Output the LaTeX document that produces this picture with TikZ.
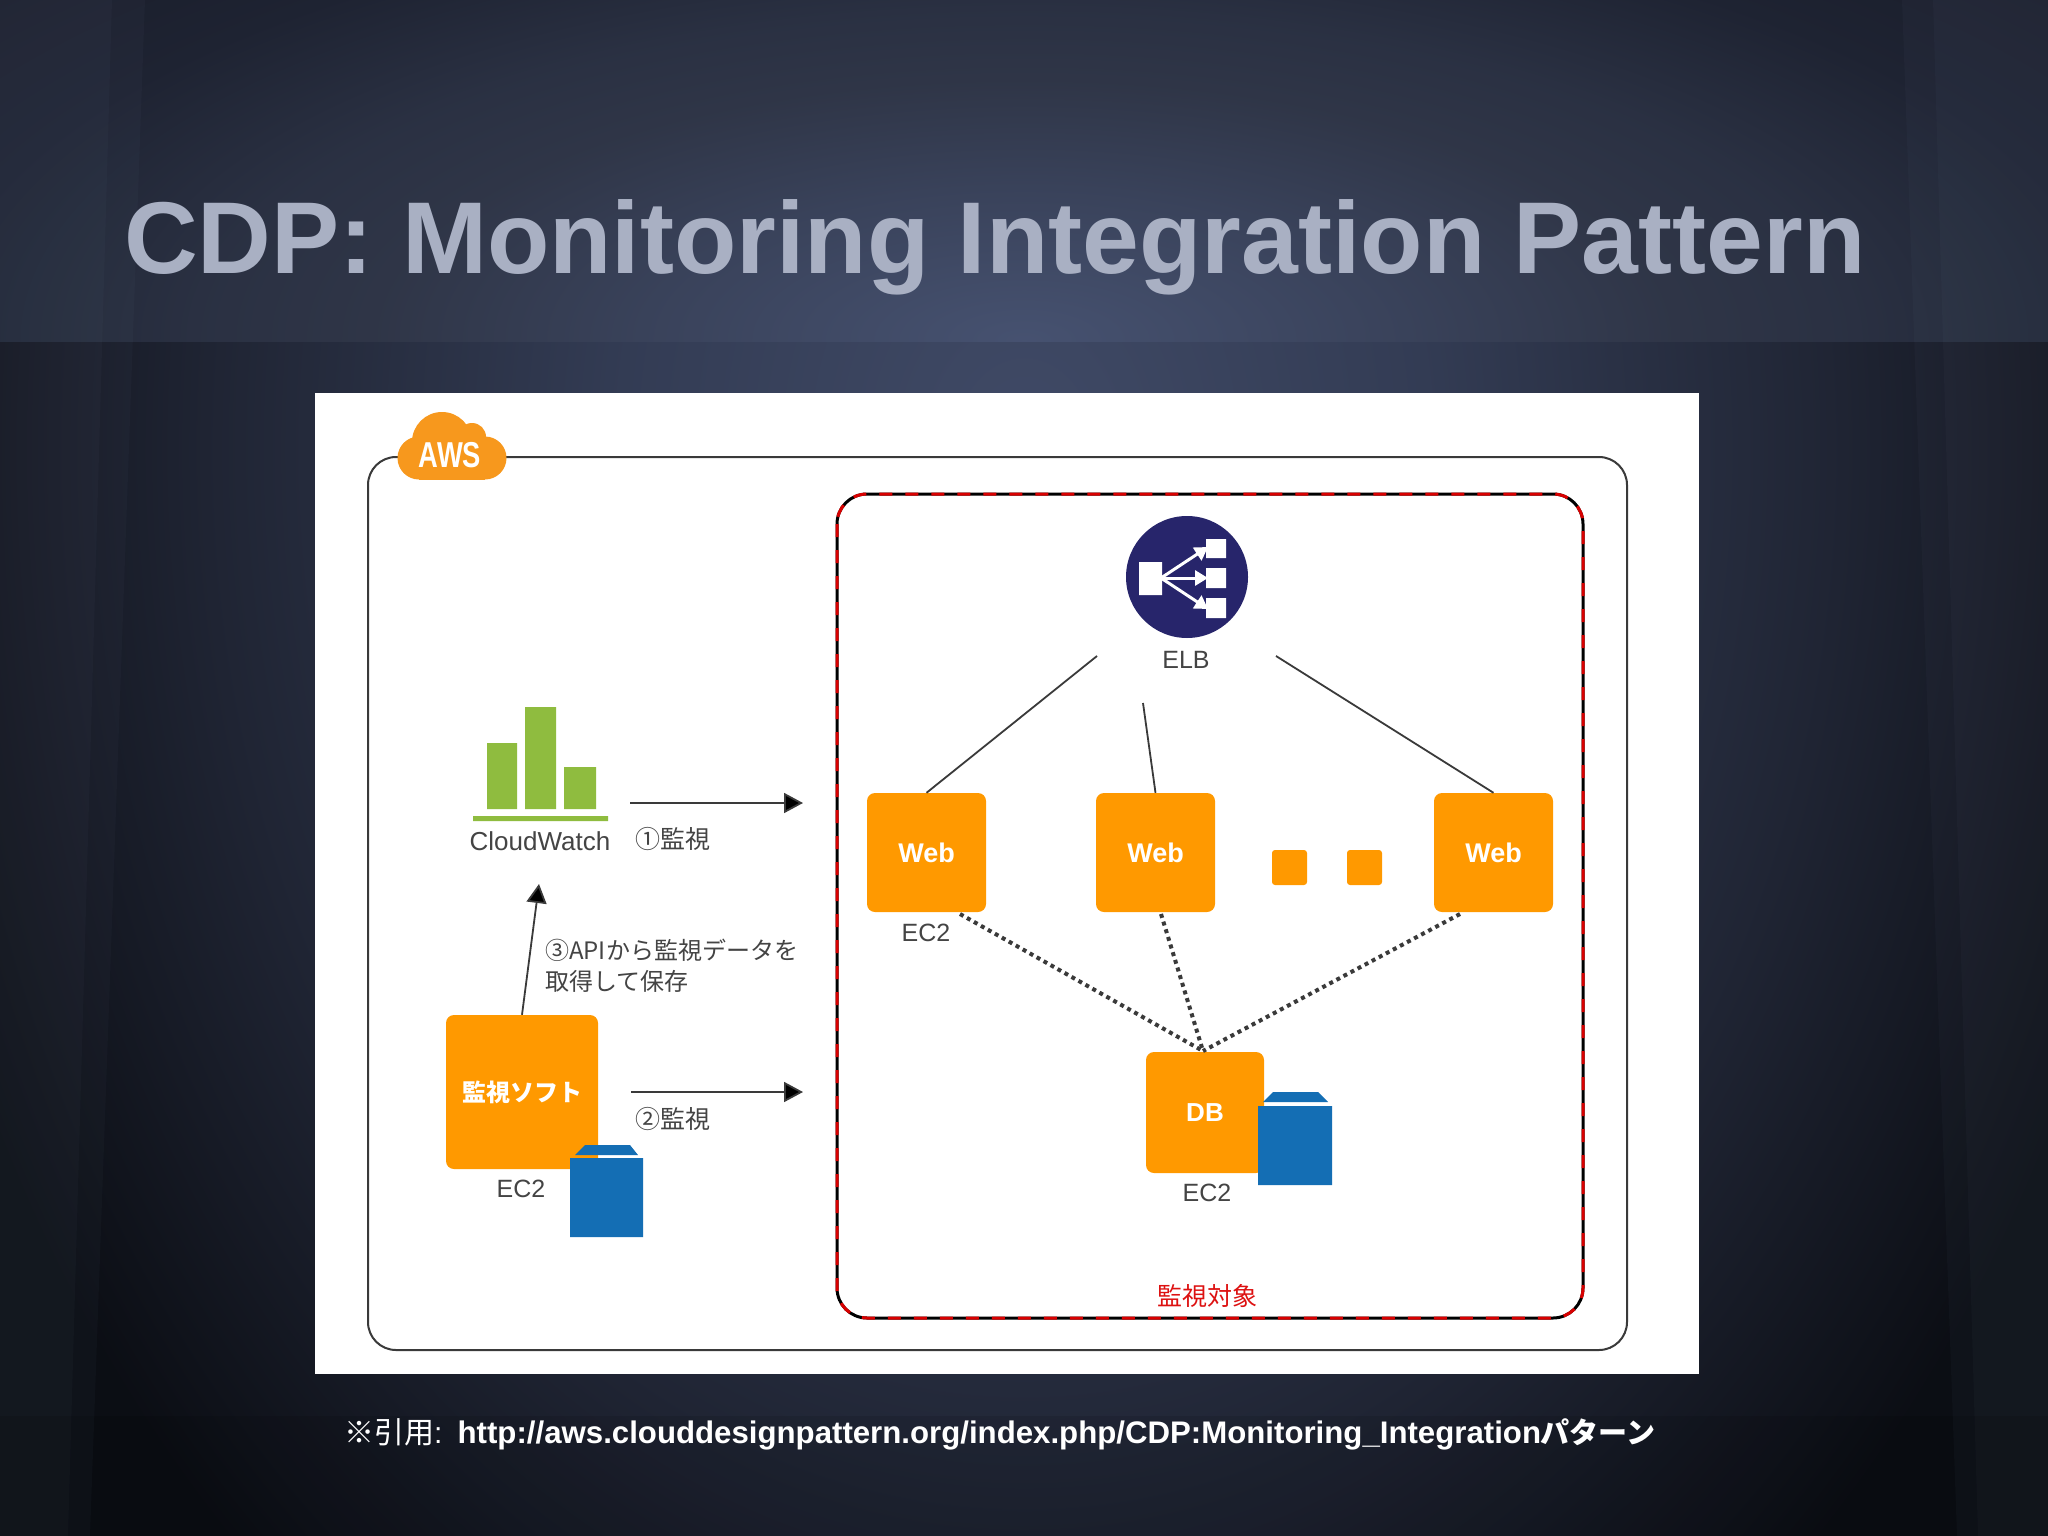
\documentclass[tikz,border=0pt]{standalone}
\usepackage{fontspec}
\setmainfont{Liberation Sans}
\newfontfamily\cjk{Noto Sans CJK JP}
\usetikzlibrary{arrows.meta}
\definecolor{topbase}{rgb}{.09,.105,.15}
\definecolor{lowbase}{rgb}{.045,.055,.08}
\definecolor{curtainblue}{HTML}{A0B4D8}
\definecolor{awsorange}{HTML}{FF9900}
\definecolor{cloudorange}{HTML}{F7981D}
\definecolor{cwgreen}{HTML}{8FBC3F}
\definecolor{boxblue}{HTML}{146EB4}
\definecolor{elbnavy}{HTML}{27256B}
\definecolor{linegray}{HTML}{3A3A3A}
\definecolor{labelgray}{HTML}{444444}
\definecolor{titlegray}{HTML}{A9B0C3}
\definecolor{redlabel}{HTML}{DD1111}
\pgfdeclareradialshading{topglow}{\pgfpointorigin}{rgb(0bp)=(.275,.32,.44); rgb(6.25bp)=(.225,.26,.355); rgb(10.75bp)=(.185,.21,.28); rgb(13.75bp)=(.165,.19,.26); rgb(18.25bp)=(.118,.137,.196); rgb(25bp)=(.09,.105,.15); rgb(50bp)=(.09,.105,.15)}
\pgfdeclareradialshading{lowglow}{\pgfpointorigin}{rgb(0bp)=(.25,.29,.40); rgb(8.75bp)=(.20,.235,.33); rgb(17.5bp)=(.125,.145,.205); rgb(25bp)=(.045,.055,.08); rgb(50bp)=(.045,.055,.08)}
\newcommand{\fs}[1]{\fontsize{#1}{#1}\selectfont}
\tikzset{
  x=1pt,y=-1pt,
  ec2node/.style={fill=awsorange,rounded corners=8,inner sep=0pt,text=white,font=\fs{27}\bfseries},
  dotnode/.style={fill=awsorange,rounded corners=3,inner sep=0pt,minimum size=35},
  lbl/.style={inner sep=0pt,text=labelgray,font=\fs{25}},
  jp/.style={inner sep=0pt,text=labelgray,font=\cjk\fs{24}},
  arrowline/.style={draw=linegray,line width=1.8,-{Triangle[length=19,width=20,fill=black]}},
  plainline/.style={draw=linegray,line width=1.8},
  dotline/.style={draw=linegray,line width=4,dash pattern=on 4 off 4},
  band/.style={fill=black,draw=none},
  curtain/.style={draw=none,fill=curtainblue},
  bluebox/.style={fill=boxblue,draw=none},
  elbwhite/.style={fill=white,draw=none},
  elbarrow/.style={draw=white,line width=3,-{Triangle[length=13,width=15]}},
}
\begin{document}
\begin{tikzpicture}
\useasboundingbox (0,0) rectangle (2048,1536);
% background
\fill[topbase] (0,0) rectangle (2048,342);
\fill[lowbase] (0,342) rectangle (2048,1536);
\begin{scope}
\clip (0,0) rectangle (2048,342);
\shade[shading=topglow] (1024,340) ellipse[x radius=1500,y radius=600];
\end{scope}
\begin{scope}
\clip (0,342) rectangle (2048,1536);
\shade[shading=lowglow] (1024,450) ellipse[x radius=1150,y radius=1500];
\end{scope}
\fill[curtain,opacity=.03] (0,0) -- (145,0) -- (90,1536) -- (0,1536) -- cycle;
\fill[curtain,opacity=.03] (0,0) -- (112,0) -- (68,1536) -- (0,1536) -- cycle;
\fill[curtain,opacity=.03] (2048,0) -- (1902,0) -- (1957,1536) -- (2048,1536) -- cycle;
\fill[curtain,opacity=.03] (2048,0) -- (1933,0) -- (1978,1536) -- (2048,1536) -- cycle;
\fill[band,opacity=.1] (0,1416) rectangle (2048,1536);
% title
\node[anchor=base west,inner sep=0pt,text=titlegray,font=\fs{102.1}\bfseries] (title) at (124,273) {CDP: Monitoring Integration Pattern};
% panel
\fill[white] (315,393) rectangle (1699,1374);
% AWS frame
\draw[draw=linegray,line width=2,rounded corners=28] (368,457) rectangle (1627,1350);
% cloud
\fill[cloudorange] (419,458) circle[radius=21.5];
\fill[cloudorange] (485,458) circle[radius=21.5];
\fill[cloudorange] (419,436.5) rectangle (485,479.5);
\fill[cloudorange] (442,442) circle[radius=30];
\fill[cloudorange] (472,437) circle[radius=14];
\node[inner sep=0pt,text=white,font=\fs{36}\bfseries,xscale=.76] (aws) at (450,455) {AWS};
% monitored frame
\draw[draw=black,line width=3,rounded corners=30] (837,494) rectangle (1583,1318);
\draw[draw=red!85!black,line width=3,rounded corners=30,dash pattern=on 13 off 13] (837,494) rectangle (1583,1318);
\node[inner sep=0pt,text=redlabel,font=\cjk\fs{25}] (target) at (1207,1296) {監視対象};
% CloudWatch
\fill[cwgreen] (487,743) rectangle (517,809) (525,707) rectangle (556,809) (564,767) rectangle (596,809) (473,816) rectangle (608,821);
\node[lbl,font=\fs{26}] (cw) at (540,841) {CloudWatch};
% Monitoring software
\node[ec2node,minimum width=152,minimum height=154,font=\cjk\fs{24}\bfseries] (soft) at (522,1092) {監視ソフト};
\fill[bluebox] (570,1158) rectangle (643,1237) (575,1155) -- (585,1145) -- (630,1145) -- (638,1155) -- cycle;
\node[lbl] (softlabel) at (521,1189) {EC2};
% Web nodes
\node[ec2node,minimum width=119,minimum height=119] (web1) at (926.5,852.5) {\raisebox{-2pt}{Web}};
\node[ec2node,minimum width=119,minimum height=119] (web2) at (1155.5,852.5) {\raisebox{-2pt}{Web}};
\node[ec2node,minimum width=119,minimum height=119] (web3) at (1493.5,852.5) {\raisebox{-2pt}{Web}};
\node[dotnode] (dot1) at (1289.5,867.5) {};
\node[dotnode] (dot2) at (1364.5,867.5) {};
\node[lbl] (web1label) at (926,933) {EC2};
% DB
\node[ec2node,minimum width=118,minimum height=121,font=\fs{26}\bfseries] (db) at (1205,1112.5) {DB};
\fill[bluebox] (1258,1106) rectangle (1332,1185) (1263,1102) -- (1273,1092) -- (1318,1092) -- (1328,1102) -- cycle;
\node[lbl] (dblabel) at (1207,1193) {EC2};
% ELB
\node[circle,fill=elbnavy,minimum size=122,inner sep=0pt] (elb) at (1187,577) {};
\fill[elbwhite] (1139,562) rectangle (1162,595) (1206,539) rectangle (1226,558) (1206,568) rectangle (1226,588) (1206,598) rectangle (1226,618);
\coordinate (elbhub) at (1161,578);
\coordinate (elbt1) at (1208,547);
\coordinate (elbt2) at (1208,578);
\coordinate (elbt3) at (1208,609);
\draw[elbarrow] (elbhub) -- (elbt1);
\draw[elbarrow] (elbhub) -- (elbt2);
\draw[elbarrow] (elbhub) -- (elbt3);
\node[lbl] (elblabel) at (1186,660) {ELB};
% connectors
\coordinate (elbL) at (1097,656);
\coordinate (elbM) at (1143,703);
\coordinate (elbR) at (1276,656);
\draw[plainline] (elbL) -- (web1.north);
\draw[plainline] (elbM) -- (web2.north);
\draw[plainline] (elbR) -- (web3.north);
\coordinate (w1b) at (960,914);
\coordinate (w2b) at (1161,914);
\coordinate (w3b) at (1460,914);
\coordinate (dbt) at (1203,1051);
\draw[dotline] (w1b) -- (dbt);
\draw[dotline] (w2b) -- (dbt);
\draw[dotline] (w3b) -- (dbt);
\coordinate (a1s) at (630,803);
\coordinate (a1e) at (803,803);
\coordinate (a2s) at (631,1092);
\coordinate (a2e) at (803,1092);
\coordinate (a3e) at (539,884);
\draw[arrowline] (a1s) -- (a1e);
\draw[arrowline] (a2s) -- (a2e);
\draw[arrowline] (soft.north) -- (a3e);
% labels
\node[jp,anchor=west,font=\cjk\fs{25}] (l1) at (635,839) {①監視};
\node[jp,anchor=west,font=\cjk\fs{25}] (l2) at (635,1119) {②監視};
\node[jp,anchor=west] (l3a) at (545,950) {③APIから監視データを};
\node[jp,anchor=west] (l3b) at (545,981) {取得して保存};
% footer
\node[anchor=base west,inner sep=0pt,text=white] (foot) at (344,1443) {{\cjk\fs{30}※引用}{\fs{30}: }\hspace{4pt}{\fs{31.2}\bfseries http://aws.clouddesignpattern.org/index.php/CDP:Monitoring\_Integration}{\cjk\fs{29}\bfseries パターン}};
\end{tikzpicture}
\end{document}
